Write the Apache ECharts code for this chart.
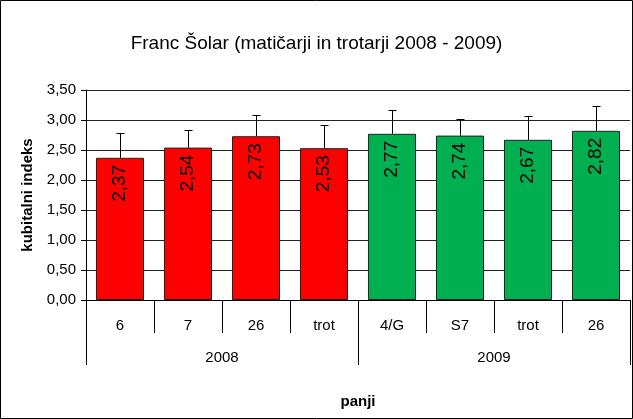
<!DOCTYPE html>
<html>
<head>
<meta charset="utf-8">
<script src="https://cdn.jsdelivr.net/npm/echarts@6/dist/echarts.min.js"></script>
<style>
  html, body { margin: 0; padding: 0; background: #fff; }
  #chart { width: 633px; height: 419px; }
</style>
</head>
<body>
<div id="chart"></div>
<script>
var categories = ["6", "7", "26", "trot", "4/G", "S7", "trot", "26"];
var years = ["2008", "2008", "2008", "2008", "2009", "2009", "2009", "2009"];
var yearLabels = ["2008", "2009"];
var values = [2.37, 2.54, 2.73, 2.53, 2.77, 2.74, 2.67, 2.82];
var errors = [0.42, 0.29, 0.36, 0.39, 0.40, 0.28, 0.39, 0.42];

var yearColors = { "2008": "#ff0000", "2009": "#00b050" };
var font = "'Liberation Sans', Arial, sans-serif";

var chart = echarts.init(document.getElementById("chart"));

var option = {
  animation: false,
  title: {
    text: "Franc Šolar (matičarji in trotarji 2008 - 2009)",
    left: "center",
    top: 29,
    textStyle: { fontFamily: font, fontSize: 19, fontWeight: "normal", color: "#000" }
  },
  graphic: [{
    type: "rect",
    shape: { x: 0.5, y: 0.5, width: 632, height: 418 },
    style: { fill: "none", stroke: "#000", lineWidth: 1 }
  }],
  grid: { left: 86, right: 3, top: 90, bottom: 119 },
  xAxis: [
    {
      type: "category",
      data: categories,
      name: "panji",
      nameLocation: "middle",
      nameGap: 94,
      nameTextStyle: { fontFamily: font, fontSize: 15, fontWeight: "bold", color: "#000" },
      axisLine: { show: true, lineStyle: { color: "#000" } },
      axisTick: { show: true, interval: 0, length: 33, lineStyle: { color: "#000" } },
      axisLabel: { interval: 0, margin: 18, fontFamily: font, fontSize: 15, color: "#000" }
    },
    {
      type: "category",
      data: yearLabels,
      position: "bottom",
      offset: 33,
      axisLine: { show: false },
      axisTick: { show: true, interval: 0, length: 32, lineStyle: { color: "#000" } },
      axisLabel: { margin: 17, fontFamily: font, fontSize: 15, color: "#000" }
    }
  ],
  yAxis: {
    type: "value",
    min: 0,
    max: 3.5,
    interval: 0.5,
    name: "kubitalni indeks",
    nameLocation: "middle",
    nameGap: 51,
    nameTextStyle: { fontFamily: font, fontSize: 15, fontWeight: "bold", color: "#000" },
    axisLine: { show: true, lineStyle: { color: "#000" } },
    axisTick: { show: true, length: 5, lineStyle: { color: "#000" } },
    axisLabel: {
      margin: 10,
      fontFamily: font,
      fontSize: 15,
      color: "#000",
      formatter: function (v) { return v.toFixed(2).replace(".", ","); }
    },
    splitLine: { show: true, lineStyle: { color: "#222", width: 1 } }
  },
  series: [
    {
      type: "bar",
      barWidth: 48,
      data: values.map(function (v, i) {
        return {
          value: v,
          itemStyle: { color: yearColors[years[i]], borderColor: "#222", borderWidth: 1 }
        };
      }),
      label: {
        show: true,
        position: "insideTop",
        rotate: 90,
        align: "right",
        verticalAlign: "middle",
        distance: 7,
        fontFamily: font,
        fontSize: 19,
        color: "#000",
        formatter: function (p) { return p.value.toFixed(2).replace(".", ","); }
      },
      z: 2
    },
    {
      type: "custom",
      data: values.map(function (v, i) { return [i, v, v + errors[i]]; }),
      renderItem: function (params, api) {
        var base = api.coord([api.value(0), api.value(1)]);
        var top = api.coord([api.value(0), api.value(2)]);
        var x = Math.round(base[0]) + 0.5;
        var y1 = Math.round(top[1]) + 0.5;
        var style = { stroke: "#000", lineWidth: 1 };
        return {
          type: "group",
          children: [
            { type: "line", shape: { x1: x, y1: base[1], x2: x, y2: y1 }, style: style },
            { type: "line", shape: { x1: x - 4, y1: y1, x2: x + 4, y2: y1 }, style: style }
          ]
        };
      },
      z: 3
    }
  ]
};

chart.setOption(option);
</script>
</body>
</html>
